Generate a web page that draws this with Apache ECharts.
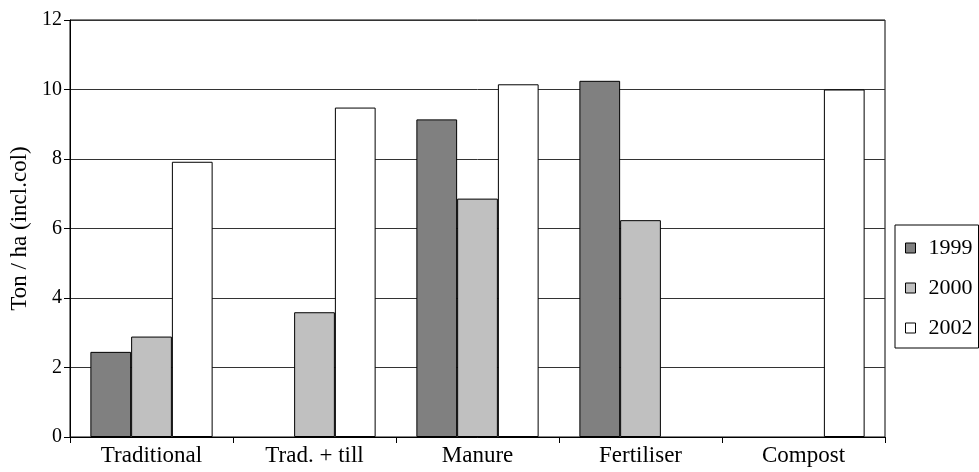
<!DOCTYPE html>
<html>
<head>
<meta charset="utf-8">
<script src="https://cdn.jsdelivr.net/npm/echarts@6/dist/echarts.min.js"></script>
<style>html,body{margin:0;padding:0;background:#fff}#c{width:979px;height:472px}</style>
</head>
<body>
<div id="c"></div>
<script>
const categories = ['Traditional', 'Trad. + till', 'Manure', 'Fertiliser', 'Compost'];
const years = ['1999', '2000', '2002'];
const values1999 = [2.45, null, 9.14, 10.25, null];
const values2000 = [2.89, 3.59, 6.86, 6.24, null];
const values2002 = [7.92, 9.48, 10.15, null, 10.0];
const yTicks = [0, 2, 4, 6, 8, 10, 12];
const colors = ['#808080', '#c0c0c0', '#ffffff'];

const font = 'Liberation Serif, Times New Roman, serif';
const seriesData = [values1999, values2000, values2002];

const chart = echarts.init(document.getElementById('c'), null, {renderer: 'canvas'});
chart.setOption({
  animation: false,
  backgroundColor: '#fff',
  textStyle: {fontFamily: font, color: '#000'},
  grid: {left: 70, right: 94, top: 20, bottom: 35, show: true, borderColor: '#000', borderWidth: 1,
         backgroundColor: 'transparent', outerBoundsMode: 'none', containLabel: false},
  legend: {
    orient: 'vertical', left: 895, top: 225,
    data: years,
    icon: 'rect', itemWidth: 10, itemHeight: 10, itemGap: 18,
    padding: [12, 6, 9, 10],
    borderColor: '#000', borderWidth: 1,
    textStyle: {fontFamily: font, fontSize: 22, color: '#000', padding: [0, 0, 0, 8]},
    itemStyle: {borderColor: '#000', borderWidth: 1}
  },
  xAxis: {
    type: 'category', data: categories,
    axisLine: {lineStyle: {color: '#000', width: 1}},
    axisTick: {show: true, length: 6, lineStyle: {color: '#000'}},
    axisLabel: {fontFamily: font, fontSize: 23, color: '#000', margin: 7, interval: 0}
  },
  yAxis: {
    type: 'value', min: yTicks[0], max: yTicks[yTicks.length - 1], interval: 2,
    name: 'Ton / ha (incl.col)', nameLocation: 'middle', nameGap: 34,
    nameTextStyle: {fontFamily: font, fontSize: 23, color: '#000'},
    axisLine: {show: true, lineStyle: {color: '#000', width: 1}},
    axisTick: {show: true, length: 6, lineStyle: {color: '#000'}},
    axisLabel: {fontFamily: font, fontSize: 20, color: '#000', margin: 8},
    splitLine: {show: true, lineStyle: {color: '#333', width: 1}}
  },
  series: years.map((y, i) => ({
    name: y, type: 'bar', data: seriesData[i],
    barWidth: '25%', barGap: '0%',
    itemStyle: {color: colors[i], borderColor: '#000', borderWidth: 1}
  }))
});
</script>
</body>
</html>
